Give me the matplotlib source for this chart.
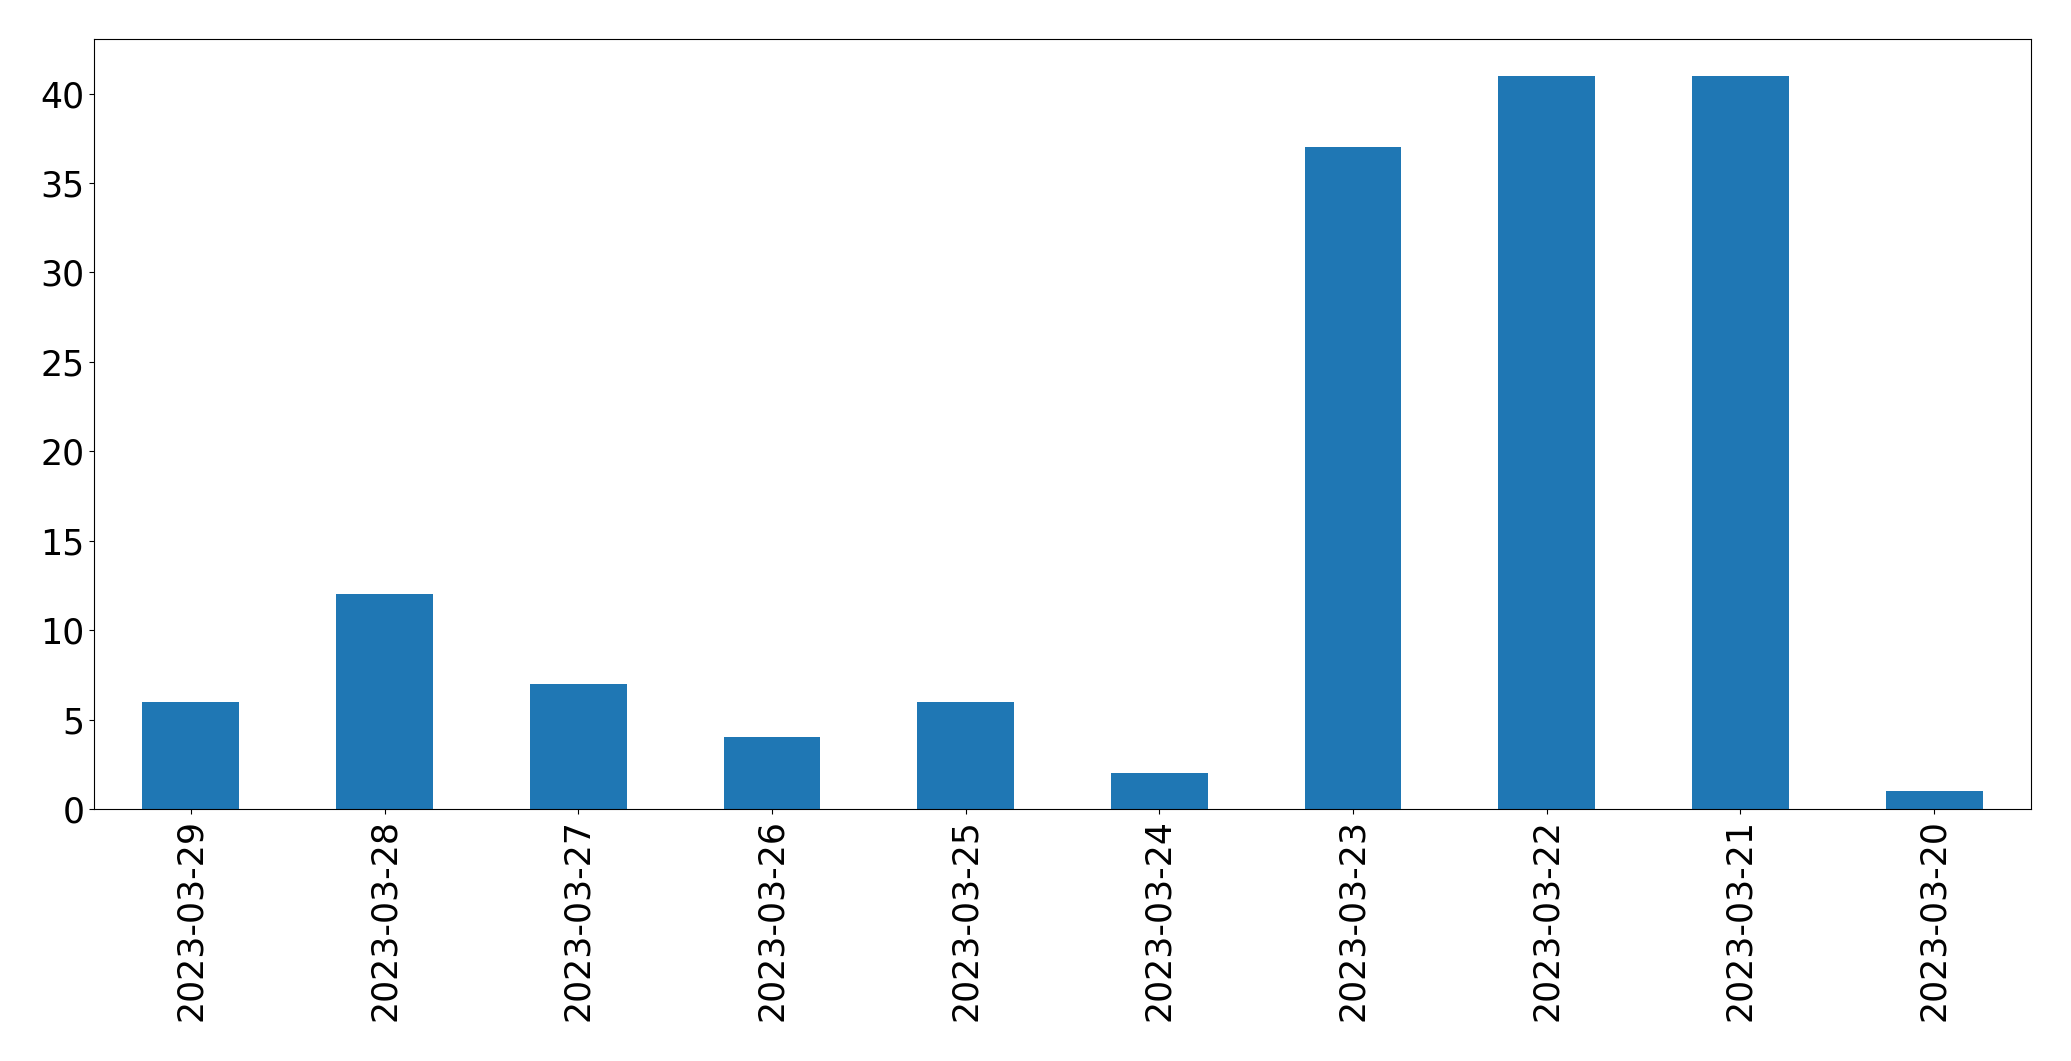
import matplotlib
matplotlib.use("Agg")
import matplotlib.pyplot as plt
import numpy as np

dates = ["2023-03-29", "2023-03-28", "2023-03-27", "2023-03-26", "2023-03-25",
         "2023-03-24", "2023-03-23", "2023-03-22", "2023-03-21", "2023-03-20"]
counts = [6, 12, 7, 4, 6, 2, 37, 41, 41, 1]

fig = plt.figure(figsize=(20.71, 10.61), dpi=100)
ax = fig.add_axes([94/2071, 1 - 809/1061, (2031-94)/2071, (809-39)/1061])
x = np.arange(len(dates))
ax.bar(x, counts, width=0.5, color="#1f77b4")
ax.set_xlim(-0.5, len(dates) - 1 + 0.5)
ax.set_ylim(0, max(counts) * 1.05)
ax.set_xticks(x)
ax.set_xticklabels(dates, rotation=90)
ax.tick_params(labelsize=25)
fig.savefig("out.png", dpi=100)
